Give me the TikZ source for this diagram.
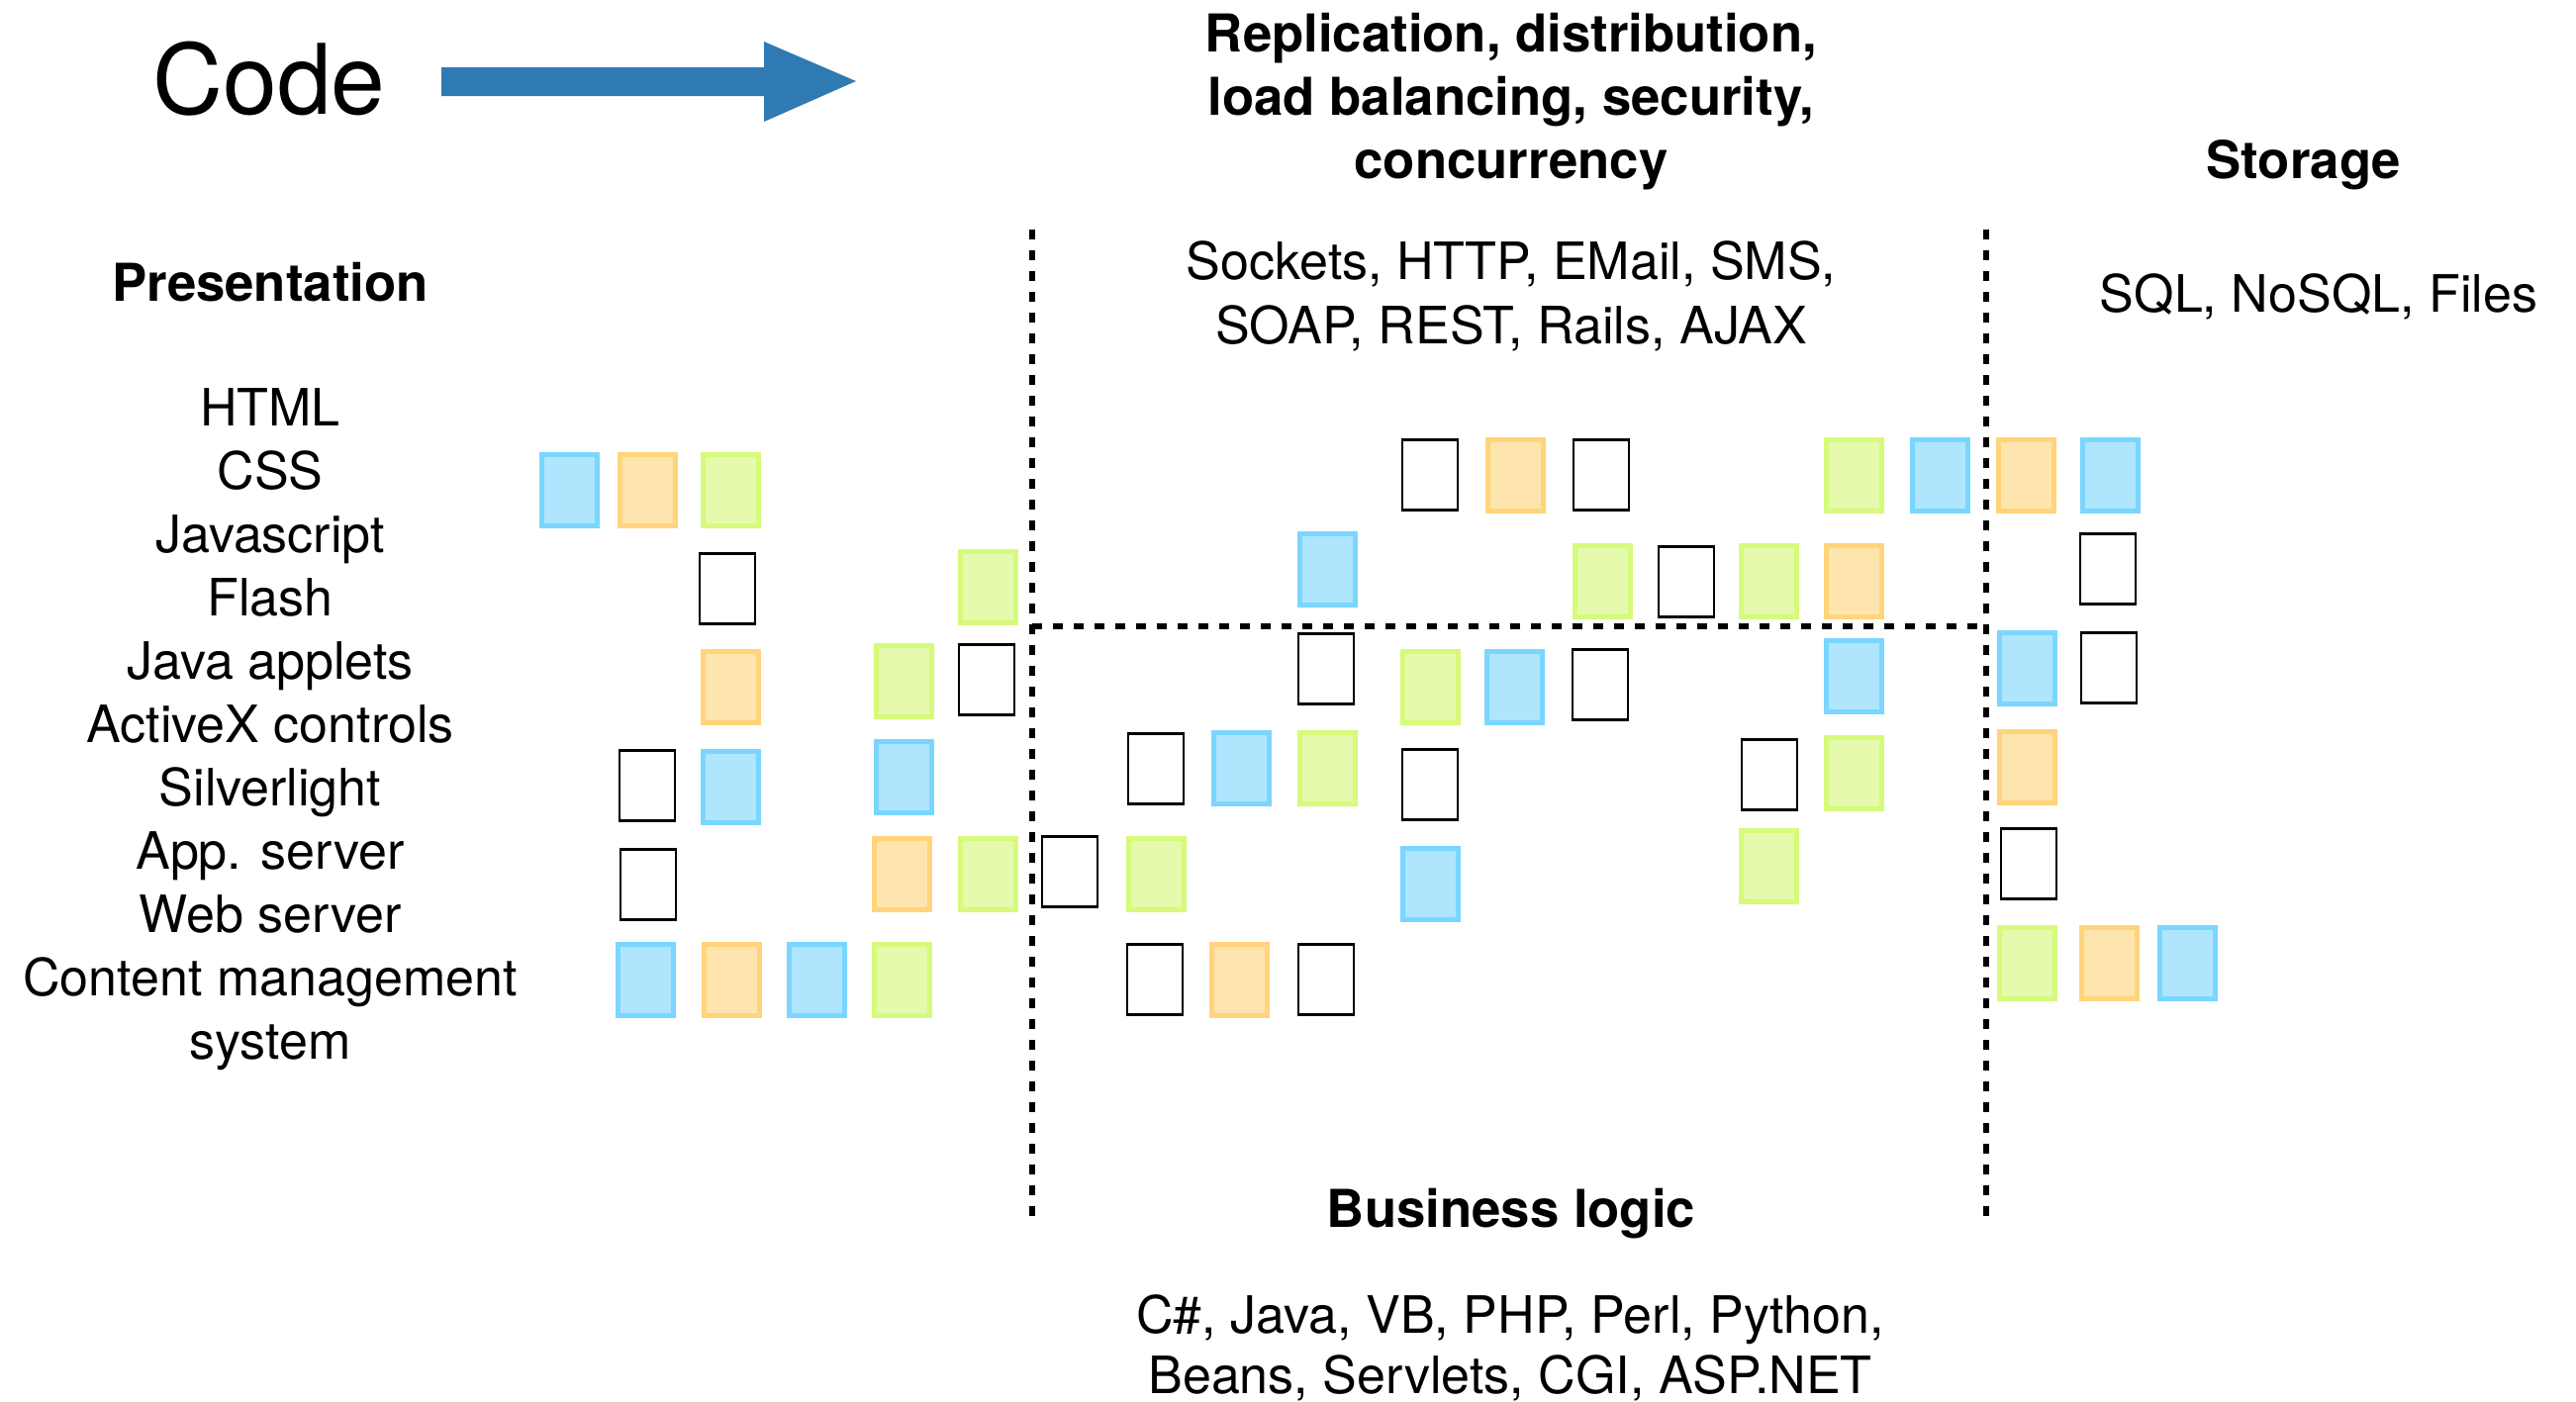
\documentclass[tikz,border=0pt]{standalone}
\usepackage{fontspec}
\setmainfont{TeX Gyre Heros}
\usepackage{tikz}
\usetikzlibrary{positioning}

\definecolor{bluefill}{RGB}{175,230,253}
\definecolor{blueline}{RGB}{122,214,255}
\definecolor{orangefill}{RGB}{254,229,174}
\definecolor{orangeline}{RGB}{255,212,122}
\definecolor{greenfill}{RGB}{229,250,172}
\definecolor{greenline}{RGB}{214,250,122}
\definecolor{arrowblue}{RGB}{47,122,178}

\tikzset{
  cell/.style={rectangle, inner sep=0pt, minimum width=0.56cm, minimum height=0.72cm,
    draw=#1line, fill=#1fill, line width=0.05cm},
  blankcell/.style={rectangle, inner sep=0pt, minimum width=0.56cm, minimum height=0.71cm,
    draw=black, fill=white, line width=0.025cm},
  item/.style={anchor=base, inner sep=0pt, font=\fontsize{14.8}{17}\selectfont},
  heading/.style={anchor=base, inner sep=0pt, font=\bfseries\fontsize{15}{18}\selectfont},
  divider/.style={line width=0.06cm, dash pattern=on 0.10cm off 0.11cm},
}

\begin{document}
\begin{tikzpicture}
		\useasboundingbox (0,0) rectangle (26.03,-14.16);
		
		% title and arrow
		\node (code) [anchor=base, inner sep=0pt, font=\fontsize{28}{32}\selectfont] at (2.72,-1.15) {Code};
		\fill[arrowblue] (4.46,-0.68) -- (7.72,-0.68) -- (7.72,-0.42) -- (8.65,-0.82)
			-- (7.72,-1.23) -- (7.72,-0.97) -- (4.46,-0.97) -- cycle;
		
		% presentation column
		\node (pres) [heading] at (2.73,-3.04) {Presentation};
		\foreach \t [count=\i from 0] in {HTML, CSS, Javascript, Flash, Java applets,
			ActiveX controls, Silverlight, App. server, Web server, Content management, system}
			\node (p\i) [item] at (2.73,-4.30-0.64*\i) {\t};
		
		% middle headings
		\node (repl1) [heading] at (15.27,-0.52) {Replication, distribution,};
		\node (repl2) [heading] at (15.27,-1.16) {load balancing, security,};
		\node (repl3) [heading] at (15.27,-1.80) {concurrency};
		\node (proto1) [item] at (15.27,-2.82) {Sockets, HTTP, EMail, SMS,};
		\node (proto2) [item] at (15.27,-3.47) {SOAP, REST, Rails, AJAX};
		
		% storage headings
		\node (store) [heading] at (23.28,-1.80) {Storage};
		\node (storelist) [item] at (23.43,-3.15) {SQL, NoSQL, Files};
		
		% business logic headings
		\node (logic) [heading] at (15.27,-12.40) {Business logic};
		\node (lang1) [item] at (15.26,-13.47) {C\#, Java, VB, PHP, Perl, Python,};
		\node (lang2) [item] at (15.26,-14.08) {Beans, Servlets, CGI, ASP.NET};
		
		% dividers
		\coordinate (lefttop) at (10.43,-2.32);
		\coordinate (leftbot) at (10.43,-12.37);
		\coordinate (righttop) at (20.07,-2.32);
		\coordinate (rightbot) at (20.07,-12.37);
		\coordinate (midleft) at (10.43,-6.33);
		\coordinate (midright) at (20.07,-6.33);
		\draw[divider] (lefttop) -- (leftbot);
		\draw[divider] (righttop) -- (rightbot);
		\draw[divider] (midleft) -- (midright);
		
		% coloured cells
		\foreach \k/\x/\y [count=\n] in {
			blue/5.75/4.95, orange/6.54/4.95, green/7.38/4.95,
			green/9.98/5.93,
			orange/7.38/6.94, green/9.13/6.88,
			blue/7.38/7.95, blue/9.13/7.85,
			orange/9.11/8.83, green/9.98/8.83,
			blue/6.52/9.90, orange/7.39/9.90, blue/8.25/9.90, green/9.11/9.90,
			orange/15.31/4.80, green/18.73/4.80, blue/19.60/4.80,
			blue/13.41/5.75, green/16.19/5.87, green/17.87/5.87, orange/18.73/5.87,
			green/14.45/6.94, blue/15.30/6.94, blue/18.73/6.83,
			blue/12.54/7.76, green/13.41/7.76, green/18.73/7.81,
			green/11.68/8.83, blue/14.45/8.93, green/17.87/8.75,
			orange/12.52/9.90,
			orange/20.47/4.80, blue/21.32/4.80,
			blue/20.48/6.75,
			orange/20.48/7.75,
			green/20.48/9.73, orange/21.31/9.73, blue/22.10/9.73}
			\node (c\n) [cell=\k] at (\x,-\y) {};
		
		% blank cells
		\foreach \x/\y [count=\n] in {
			7.35/5.95, 9.97/6.87, 6.54/7.94, 6.55/8.94,
			14.45/4.80, 16.18/4.80, 17.04/5.88, 13.40/6.76, 16.17/6.92,
			11.68/7.77, 14.45/7.93, 17.88/7.83, 10.81/8.81, 11.67/9.90, 13.40/9.90,
			21.30/5.75, 21.31/6.75, 20.50/8.73}
			\node (w\n) [blankcell] at (\x,-\y) {};
		
	\end{tikzpicture}
\end{document}
